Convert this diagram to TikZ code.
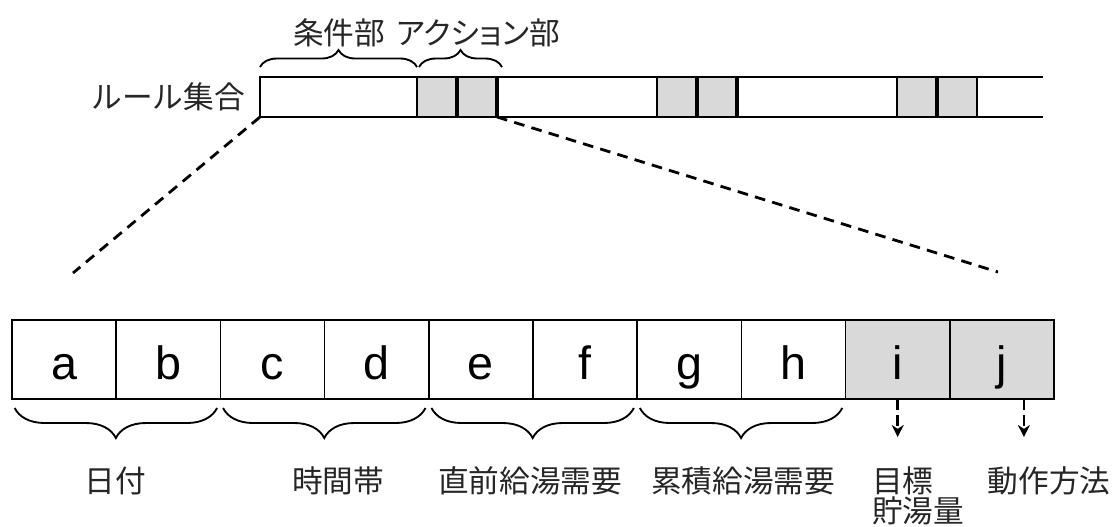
\documentclass[tikz,border=0pt]{standalone}
\usepackage{fontspec}
\setmainfont{Liberation Sans}
\newfontfamily\jfont{Noto Sans CJK JP}
\newfontfamily\jpfont[RawFeature=+palt]{Noto Sans CJK JP}
\usetikzlibrary{arrows,arrows.meta,positioning,decorations.pathreplacing,calc}

\begin{document}
\begin{tikzpicture}[x=0.75pt, y=-0.75pt]
\tikzset{
    %Define standard arrow tip
    >=stealth',
    %Define style for the cells of one rule
    cell/.style={
           rectangle,
           draw=black, line width=1.2pt,
           minimum width=78.15pt,
           minimum height=59.25pt,
           inner sep=0pt, outer sep=0pt,
           text height=31pt, text depth=1pt,
           font=\fontsize{35}{35}\selectfont},
    %Define style for the action cells
    act/.style={cell, fill=black!15},
    %Define style for the small cells of the rule set
    gcell/.style={
           rectangle,
           draw=black, line width=1.4pt,
           fill=black!15,
           minimum width=30pt,
           minimum height=30pt,
           inner sep=0pt, outer sep=0pt},
    %Define style for the labels
    lbl/.style={
           inner sep=0pt,
           text=black!85,
           font=\jfont\fontsize{23}{22.5}\selectfont},
    % Define brace styles
    topbrace/.style={
           decorate,
           decoration={brace, amplitude=12.75pt},
           line width=1.4pt},
    lowbrace/.style={
           decorate,
           decoration={brace, amplitude=22.5pt},
           line width=1.4pt},
    % Define line and arrow styles
    zoomline/.style={
           line width=2.1pt,
           dash pattern=on 8pt off 5.5pt},
    dpil/.style={
           -{Stealth[length=9pt,width=9pt]},
           line width=2.1pt,
           dash pattern=on 8pt off 4pt}
}
\useasboundingbox (0,0) rectangle (1113,526);

 %rule set
 \node[minimum width=587.25pt, minimum height=30pt, inner sep=0pt, outer sep=0pt] (bar) at (651.5,97) {};
 \draw[line width=1.5pt] (bar.north east) -- (bar.north west) -- (bar.south west) -- (bar.south east);
 \foreach \x [count=\k] in {437,677,917} {
   \node[gcell] (ga\k) at (\x,97) {};
   \node[gcell, right=0pt of ga\k] (gb\k) {};
   \draw[line width=2.3pt] (ga\k.north east) -- (ga\k.south east);
 }
 \draw[line width=2.3pt] (gb1.north east) -- (gb1.south east);
 \draw[line width=2.3pt] (gb2.north east) -- (gb2.south east);
 \node[lbl, left=11.25pt of bar.west] (rules) {ルール集合};

 % braces over the first rule
 \draw[topbrace] ([yshift=7.5pt]bar.north west) -- ([yshift=7.5pt]ga1.north west);
 \draw[topbrace] ([xshift=1.5pt,yshift=7.5pt]ga1.north west) -- ([xshift=3.75pt,yshift=7.5pt]gb1.north east);
 \node[lbl] (cond) at (339,33) {条件部};
 \node[lbl, font=\jpfont\fontsize{23}{22.5}\selectfont] (action) at (478,33) {アクション部};

 %one rule
 \node[cell] (c1) at (64.1,359.5) {a};
 \foreach \l [count=\i from 2, evaluate=\i as \p using int(\i-1)] in {b,c,d,e,f,g,h}
   \node[cell, right=0pt of c\p] (c\i) {\l};
 \node[act, right=0pt of c8] (c9) {i};
 \node[act, right=0pt of c9] (c10) {j};

 % zoom lines
 \coordinate (zl) at (73,273);
 \coordinate (zr) at (998,272);
 \draw[zoomline] (bar.south west) -- (zl);
 \draw[zoomline] (gb1.south east) -- (zr);

 % braces under the condition cells
 \foreach \p/\q in {1/2,3/4,5/6,7/8}
   \draw[lowbrace] ([xshift=-2.5pt,yshift=-6.75pt]c\q.south east) -- ([xshift=2pt,yshift=-6.75pt]c\p.south west);
 \node[lbl] (date) at (115,481) {日付};
 \node[lbl] (time) at (338,481) {時間帯};
 \node[lbl] (recent) at (530,481) {直前給湯需要};
 \node[lbl] (total) at (743,481) {累積給湯需要};

 % arrows under the action cells
 \coordinate (ai) at ([yshift=-28.5pt]c9.south);
 \coordinate (aj0) at ([xshift=16.5pt]c10.south);
 \coordinate (aj) at ([xshift=16.5pt,yshift=-28.5pt]c10.south);
 \draw[dpil] (c9.south) -- (ai);
 \draw[dpil] (aj0) -- (aj);
 \node[lbl, align=left, anchor=west] (target) at (872,496) {目標\\貯湯量};
 \node[lbl] (mode) at (1049,481) {動作方法};
\end{tikzpicture}
\end{document}
